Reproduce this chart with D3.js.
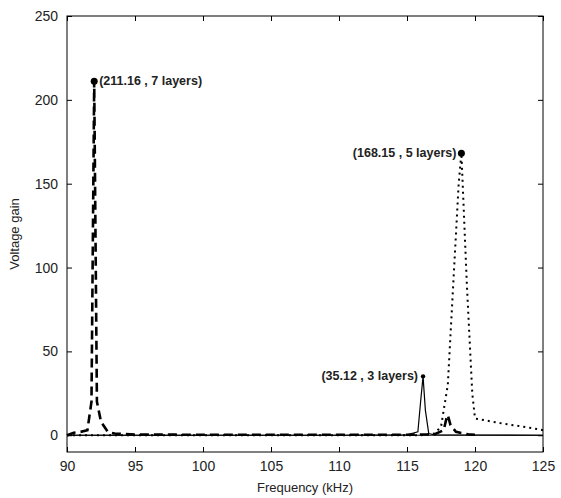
<!DOCTYPE html>
<html lang="en">
<head>
<meta charset="UTF-8">
<title>Voltage gain</title>
<script src="https://cdnjs.cloudflare.com/ajax/libs/d3/7.8.5/d3.min.js"></script>
<style>
  body { margin: 0; background: #fff; }
  text { font-family: "Liberation Sans", Arial, sans-serif; }
</style>
</head>
<body>
<div id="chart"></div>
<script>
// data
const xTicks = [90, 95, 100, 105, 110, 115, 120, 125];
const yTicks = [0, 50, 100, 150, 200, 250];

const layers7 = [[90,0],[90.5,1.5],[91,2],[91.5,3],[91.8,20],[92,211.16],[92.2,20],[92.5,8],[93,2],[93.5,1],[94,0.8],[95,0.4],
  [100,0.3],[110,0.3],[115,0.3],[117,0.5],[117.7,3],[117.9,10],[118,12],[118.2,6],[118.6,2],[119.5,0.5],[120,0.3]];
const layers5 = [[90,0],[100,0],[110,0],[116,0],[117,1],[117.5,5],[118,30],[118.4,90],[118.8,150],[119,168.15],[119.4,90],[119.8,25],[120,10],[122,7],[124,4.5],[125,3]];
const layers3 = [[90,0],[100,0],[110,0],[115,0.3],[115.8,2],[116,20],[116.18,35.12],[116.35,15],[116.6,1],[117,0.3],[125,0]];

const peaks = [
  { x: 92, y: 211.16, label: "(211.16 , 7 layers)", side: "right", r: 3.5 },
  { x: 119, y: 168.15, label: "(168.15 , 5 layers)", side: "left", r: 3.5 },
  { x: 116.18, y: 35.12, label: "(35.12 , 3 layers)", side: "left", r: 2.2 }
];

const W = 561, H = 498;
const margin = { top: 16, right: 18, bottom: 46, left: 67 };
const width = W - margin.left - margin.right;
const height = H - margin.top - margin.bottom;

const svg = d3.select("#chart").append("svg")
  .attr("width", W).attr("height", H)
  .append("g")
  .attr("transform", `translate(${margin.left},${margin.top})`);

const x = d3.scaleLinear().domain([90, 125]).range([0, width]);
const y = d3.scaleLinear().domain([-10, 250]).range([height, 0]);

const line = d3.line().x(d => x(d[0])).y(d => y(d[1]));

// zero line
svg.append("line")
  .attr("x1", 0).attr("x2", width)
  .attr("y1", y(0)).attr("y2", y(0))
  .attr("stroke", "#000").attr("stroke-width", 1);

svg.append("path").datum(layers5).attr("d", line)
  .attr("fill", "none").attr("stroke", "#000").attr("stroke-width", 2)
  .attr("stroke-dasharray", "2,4");
svg.append("path").datum(layers3).attr("d", line)
  .attr("fill", "none").attr("stroke", "#000").attr("stroke-width", 1.2);
svg.append("path").datum(layers7).attr("d", line)
  .attr("fill", "none").attr("stroke", "#000").attr("stroke-width", 2.6)
  .attr("stroke-dasharray", "9,5");

// axes, ticks inward
svg.append("g").attr("transform", `translate(0,${height})`)
  .call(d3.axisBottom(x).tickValues(xTicks).tickSizeInner(-5).tickSizeOuter(0).tickPadding(9));
svg.append("g")
  .call(d3.axisLeft(y).tickValues(yTicks).tickSizeInner(-5).tickSizeOuter(0).tickPadding(9));
svg.append("g").call(d3.axisTop(x).tickValues(xTicks).tickSizeInner(-5).tickSizeOuter(0).tickFormat(""));
svg.append("g").attr("transform", `translate(${width},0)`)
  .call(d3.axisRight(y).tickValues(yTicks).tickSizeInner(-5).tickSizeOuter(0).tickFormat(""));
svg.selectAll(".domain").remove();
svg.selectAll(".tick text").attr("font-size", 14).attr("fill", "#222");
svg.append("rect").attr("width", width).attr("height", height)
  .attr("fill", "none").attr("stroke", "#000").attr("stroke-width", 1);

// peak markers
peaks.forEach(p => {
  svg.append("circle").attr("cx", x(p.x)).attr("cy", y(p.y)).attr("r", p.r).attr("fill", "#000");
  svg.append("text")
    .attr("x", x(p.x) + (p.side === "right" ? 5 : -5))
    .attr("y", y(p.y) + 4)
    .attr("text-anchor", p.side === "right" ? "start" : "end")
    .attr("font-size", 12.5).attr("font-weight", "bold").attr("fill", "#222")
    .text(p.label);
});

svg.append("text").attr("x", width / 2).attr("y", height + 40)
  .attr("text-anchor", "middle").attr("font-size", 13).attr("fill", "#222")
  .text("Frequency (kHz)");
svg.append("text")
  .attr("transform", `translate(${-48},${height / 2}) rotate(-90)`)
  .attr("text-anchor", "middle").attr("font-size", 13).attr("fill", "#222")
  .text("Voltage gain");
</script>
</body>
</html>
